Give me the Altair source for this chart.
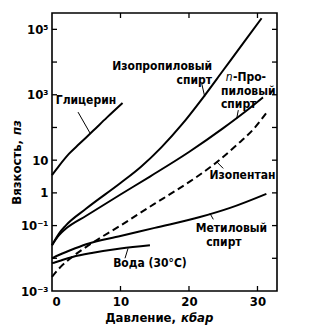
import altair as alt
import pandas as pd

# ---- data: pressure (kbar) and viscosity (poise) ----
glycerin_p = [0, 1, 2.5, 4, 6, 8, 10.3]
glycerin_v = [3.5, 6.6, 15.8, 31.6, 79, 200, 560]

isopropyl_p = [0, 1, 2, 5, 10, 13, 16, 19, 22, 25, 28, 30.6]
isopropyl_v = [0.0251, 0.0562, 0.1, 0.331, 2.0, 6.31, 25.1, 126, 794, 5623, 39811, 218776]

npropyl_p = [0, 1, 2, 5, 10, 14.3, 20, 25, 28, 30.8]
npropyl_v = [0.0251, 0.0501, 0.0794, 0.1995, 0.891, 3.16, 17.8, 95.5, 282, 832]

isopentane_p = [0, 1, 3, 5, 10, 15, 18, 21, 24, 27, 29.5, 31.6]
isopentane_v = [0.00269, 0.00479, 0.0112, 0.0224, 0.1, 0.468, 1.15, 2.95, 8.51, 29.5, 93.3, 339]

methyl_p = [0, 1, 2.5, 5, 10, 15, 21.6, 26, 31.3]
methyl_v = [0.01, 0.0126, 0.017, 0.0269, 0.0479, 0.0851, 0.182, 0.347, 0.933]

water_p = [0, 0.5, 1.5, 3, 6, 10, 14.3]
water_v = [0.0071, 0.0076, 0.0089, 0.011, 0.0148, 0.02, 0.025]

x_ticks = [0, 10, 20, 30]
y_ticks = [1e-3, 1e-2, 1e-1, 1, 10, 1e2, 1e3, 1e4, 1e5]

# curve labels
lab_center_text = ["Глицерин", "Изопентан", "Метиловый", "спирт", "Вода (30°C)"]
lab_center_p = [4.96, 27.8, 26.2, 25.1, 14.3]
lab_center_v = [676, 3.47, 0.083, 0.031, 0.0071]

lab_right_text = ["Изопропиловый", "спирт", "n"]
lab_right_p = [23.36, 23.36, 26.35]
lab_right_v = [7430, 2820, 3470]

lab_left_text = ["-Про-", "пиловый", "спирт"]
lab_left_p = [26.42, 24.67, 24.67]
lab_left_v = [3470, 1334, 515]

# leader lines (from, to)
lead_p1 = [3.8, 21.85, 27.2, 24.05, 23.07, 11.1]
lead_v1 = [295, 2239, 339, 8.9, 0.234, 0.02]
lead_p2 = [5.55, 22.3, 26.96, 25.0, 23.55, 10.66]
lead_v2 = [67.6, 871, 186, 5.6, 0.155, 0.01]

# ---- build tables ----
rows = []
for name, ps, vs in [("Глицерин", glycerin_p, glycerin_v),
                     ("Изопропиловый", isopropyl_p, isopropyl_v),
                     ("н-Пропиловый", npropyl_p, npropyl_v),
                     ("Метиловый", methyl_p, methyl_v),
                     ("Вода", water_p, water_v)]:
    for p, v in zip(ps, vs):
        rows.append({"series": name, "p": p, "v": v})
df_solid = pd.DataFrame(rows)
df_dash = pd.DataFrame({"series": "Изопентан", "p": isopentane_p, "v": isopentane_v})

W, H = 225, 278
FONT = "DejaVu Sans Condensed, Liberation Sans Narrow, DejaVu Sans"

xs = alt.Scale(domain=[0, 32.85], nice=False, zero=False)
ys = alt.Scale(type="log", domain=[1e-3, 10 ** 5.5], nice=False)

E = "round(log(datum.value)/LN10)"
label_expr = (f"{E}==5 ? '10⁵' : {E}==3 ? '10³' : {E}==1 ? '10' : {E}==0 ? '1' : "
              f"{E}==-1 ? '10⁻¹' : {E}==-3 ? '10⁻³' : ''")

AX = alt.Axis(values=x_ticks, ticks=False, domain=False, grid=False, title=None,
              labelPadding=4, labelFont=FONT, labelFontSize=13, labelFontWeight="bold",
              labelColor="black")
AY = alt.Axis(values=y_ticks, ticks=False, domain=False, grid=False, title=None,
              labelPadding=4, labelFont=FONT, labelFontSize=13, labelFontWeight="bold",
              labelColor="black", labelExpr=label_expr, labelBaseline="middle")

solid = alt.Chart(df_solid).mark_line(color="black", strokeWidth=2, interpolate="monotone").encode(
    x=alt.X("p:Q", scale=xs, axis=AX),
    y=alt.Y("v:Q", scale=ys, axis=AY),
    detail="series:N",
)
dashed = alt.Chart(df_dash).mark_line(color="black", strokeWidth=2, interpolate="monotone",
                                      strokeDash=[7, 4]).encode(
    x=alt.X("p:Q", scale=xs, axis=AX),
    y=alt.Y("v:Q", scale=ys, axis=AY),
)

df_lead = pd.DataFrame({"p1": lead_p1, "v1": lead_v1, "p2": lead_p2, "v2": lead_v2})
leaders = alt.Chart(df_lead).mark_rule(color="black", strokeWidth=1).encode(
    x=alt.X("p1:Q", scale=xs, axis=AX), y=alt.Y("v1:Q", scale=ys, axis=AY),
    x2="p2:Q", y2="v2:Q",
)

def text_layer(texts, ps, vs, align, style="normal", weight="bold"):
    d = pd.DataFrame({"t": texts, "p": ps, "v": vs})
    return alt.Chart(d).mark_text(font=FONT, fontSize=12, fontWeight=weight, fontStyle=style,
                                  color="black", align=align, baseline="middle").encode(
        x=alt.X("p:Q", scale=xs, axis=AX), y=alt.Y("v:Q", scale=ys, axis=AY), text="t:N")

t_center = text_layer(lab_center_text, lab_center_p, lab_center_v, "center")
t_right = text_layer(lab_right_text[:2], lab_right_p[:2], lab_right_v[:2], "right")
t_n = text_layer(lab_right_text[2:], lab_right_p[2:], lab_right_v[2:], "right", "italic", "normal")
t_left = text_layer(lab_left_text, lab_left_p, lab_left_v, "left")

# inward ticks on all four sides
df_xt = pd.DataFrame({"t": x_ticks[1:]})
df_yt = pd.DataFrame({"t": y_ticks[1:]})
tick_b = alt.Chart(df_xt).mark_rule(color="black", strokeWidth=1.3).encode(
    x=alt.X("t:Q", scale=xs, axis=AX), y=alt.value(H), y2=alt.value(H - 5))
tick_t = alt.Chart(df_xt).mark_rule(color="black", strokeWidth=1.3).encode(
    x=alt.X("t:Q", scale=xs, axis=AX), y=alt.value(0), y2=alt.value(5))
tick_l = alt.Chart(df_yt).mark_rule(color="black", strokeWidth=1.3).encode(
    y=alt.Y("t:Q", scale=ys, axis=AY), x=alt.value(0), x2=alt.value(5))
tick_r = alt.Chart(df_yt).mark_rule(color="black", strokeWidth=1.3).encode(
    y=alt.Y("t:Q", scale=ys, axis=AY), x=alt.value(W), x2=alt.value(W - 5))

# axis titles (with italic units)
def title_text(txt, x, y, align, style="normal", angle=0):
    return alt.Chart(pd.DataFrame({"t": [txt]})).mark_text(
        font=FONT, fontSize=13, fontWeight="bold", fontStyle=style, color="black",
        align=align, baseline="middle", angle=angle).encode(
        x=alt.value(x), y=alt.value(y), text="t:N")

xt1 = title_text("Давление,", 124, 305, "right")
xt2 = title_text("кбар", 129, 305, "left", "italic")
yt1 = title_text("Вязкость,", -35, 127, "right", angle=270)
yt2 = title_text("пз", -35, 122, "left", "italic", angle=270)

chart = alt.layer(
    solid, dashed, leaders, t_center, t_right, t_n, t_left,
    tick_b, tick_t, tick_l, tick_r, xt1, xt2, yt1, yt2,
).properties(
    width=W, height=H,
    autosize=alt.AutoSizeParams(type="none"),
    padding={"left": 52, "top": 13, "right": 54, "bottom": 44},
    background="white",
).configure_view(stroke="black", strokeWidth=1.6)

chart.save("out.html", embed_options={"renderer": "svg", "actions": False})
